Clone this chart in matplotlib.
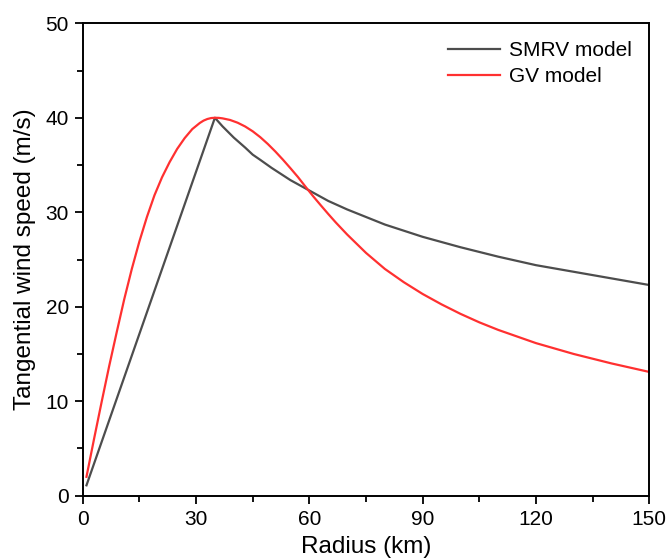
import matplotlib
matplotlib.use("Agg")
import matplotlib.pyplot as plt
from matplotlib.ticker import MultipleLocator

plt.rcParams['font.family'] = ['Liberation Sans', 'DejaVu Sans']

# SMRV model
smrv_r = [1, 35, 36, 37, 38, 39, 40, 41, 42, 43, 45, 47, 50, 55, 60, 65, 70, 80, 90,
          100, 110, 120, 130, 140, 150]
smrv_v = [1.1, 40.0, 39.55, 39.1, 38.7, 38.3, 37.9, 37.55, 37.2, 36.85, 36.1, 35.55,
          34.7, 33.4, 32.3, 31.2, 30.3, 28.7, 27.4, 26.3, 25.3, 24.4, 23.7, 23.0, 22.3]

# GV model
gv_r = [1, 3, 5, 7, 9, 11, 13, 15, 17, 19, 21, 23, 25, 27, 29, 31, 32, 33, 34, 35,
        36, 37, 39, 41, 43, 45, 47, 49, 51, 53, 55, 57, 59, 61, 63, 65, 67, 70,
        75, 80, 85, 90, 95, 100, 105, 110, 120, 130, 140, 150]
gv_v = [2.0, 6.0, 9.9, 13.7, 17.3, 20.8, 24.0, 26.9, 29.5, 31.8, 33.7, 35.3, 36.7,
        37.85, 38.8, 39.45, 39.7, 39.87, 39.97, 40.0,
        39.99, 39.94, 39.77, 39.48, 39.08, 38.57, 37.95, 37.23, 36.43, 35.57, 34.66, 33.72,
        32.7, 31.7, 30.75, 29.82, 28.92, 27.65,
        25.7, 24.0, 22.6, 21.35, 20.25, 19.25, 18.35, 17.55, 16.15, 15.0, 14.0, 13.1]

labels = ["SMRV model", "GV model"]
colors = ["#4d4d4d", "#ff3030"]

fig = plt.figure(figsize=(6.68, 5.6), dpi=100)
ax = fig.add_axes([0.1238, 0.1148, 0.8482, 0.8436])

ax.plot(smrv_r, smrv_v, color=colors[0], lw=1.6, label=labels[0])
ax.plot(gv_r, gv_v, color=colors[1], lw=1.6, label=labels[1])

ax.set_xlim(0, 150)
ax.set_ylim(0, 50)
ax.xaxis.set_major_locator(MultipleLocator(30))
ax.xaxis.set_minor_locator(MultipleLocator(15))
ax.yaxis.set_major_locator(MultipleLocator(10))
ax.yaxis.set_minor_locator(MultipleLocator(5))
ax.tick_params(which='major', direction='out', length=6, width=1.3, labelsize=15, pad=4)
ax.tick_params(which='minor', direction='out', length=4, width=1.3)
for s in ax.spines.values():
    s.set_linewidth(1.4)

ax.set_xlabel("Radius (km)", fontsize=17.5, labelpad=5)
ax.set_ylabel("Tangential wind speed (m/s)", fontsize=17.5, labelpad=7)

ax.legend(loc='upper right', frameon=False, fontsize=15, handlelength=2.5,
          handletextpad=0.4, labelspacing=0.35, borderaxespad=0.45)

fig.savefig("out.png", dpi=100)
